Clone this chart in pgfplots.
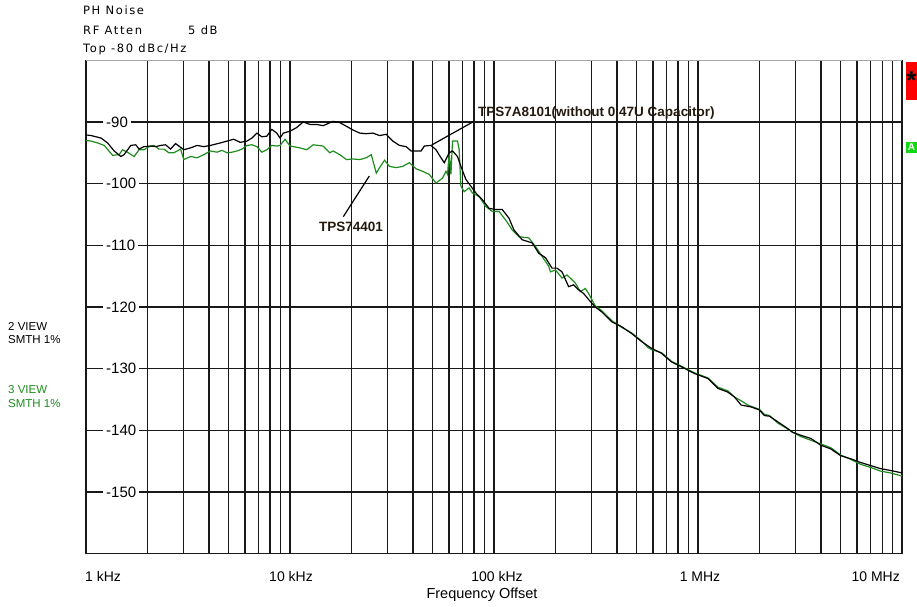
\documentclass[border=0pt]{standalone}
\usepackage{fontspec}
\setmainfont{Liberation Sans}
\newfontfamily\hdr{DejaVu Sans}[LetterSpace=14]
\usepackage{pgfplots}
\usepackage{pgfplotstable}
\pgfplotsset{compat=1.18}
\definecolor{tgreen}{RGB}{30,140,30}
\definecolor{boxgreen}{RGB}{20,215,20}
\definecolor{anntext}{RGB}{35,25,15}

\pgfplotstableread{
f db
1000 -92.1
1058 -92.2
1184 -92.6
1276 -93.4
1374 -94.7
1482 -95.6
1537 -95.3
1658 -93.8
1754 -93.7
1820 -94.4
1925 -94.0
2075 -93.9
2195 -94.0
2322 -93.8
2456 -93.7
2597 -94.4
2748 -93.5
2852 -93.9
3017 -94.5
3253 -94.2
3507 -93.8
3777 -94.0
4072 -93.8
4555 -93.4
4911 -93.1
5290 -92.8
5702 -93.3
6150 -93.1
6505 -92.6
6881 -91.8
7278 -92.4
7698 -92.3
8142 -91.2
8612 -91.8
8938 -92.6
9275 -91.8
10000 -91.5
10783 -90.9
11609 -90.0
12523 -90.4
13495 -90.4
14535 -90.6
16265 -89.9
17539 -90.1
18908 -90.7
20362 -91.3
21956 -91.8
23660 -91.9
25491 -91.8
27479 -92.2
29629 -92.0
31907 -93.1
34404 -93.8
37092 -94.0
39232 -94.7
43895 -94.7
45553 -93.9
49111 -93.8
51940 -94.5
54954 -95.8
57025 -96.6
60321 -95.0
62602 -94.7
66222 -95.6
68800 -97.2
72778 -99.3
76961 -100.4
81417 -101.5
87690 -102.6
94540 -104.0
101930 -104.2
109770 -104.2
118390 -105.6
125230 -107.5
137400 -109.1
153800 -109.6
165800 -111.3
178700 -112.0
192500 -113.7
203600 -113.7
215400 -114.3
232200 -116.7
245600 -116.4
259700 -117.2
274800 -117.8
296300 -119.1
313400 -120.0
337600 -120.8
377700 -122.4
422600 -123.2
472700 -124.3
528900 -125.6
591700 -126.7
662200 -127.5
740900 -128.9
828700 -129.7
963600 -130.8
1119000 -131.6
1252000 -133.2
1401000 -133.8
1510000 -134.6
1627000 -135.9
1820000 -136.2
2000000 -136.7
2115000 -137.6
2238000 -137.7
2456000 -138.6
2696000 -139.5
2906000 -140.3
3190000 -140.8
3569000 -141.3
3995000 -142.4
4469000 -143.0
5000000 -144.1
5595000 -144.6
6260000 -145.2
7003000 -145.7
7836000 -146.2
8769000 -146.5
10000000 -146.9
}\blackdata

\pgfplotstableread{
f db
1000 -93.0
1058 -93.1
1140 -93.4
1228 -93.8
1350 -95.4
1454 -95.3
1510 -94.5
1597 -94.9
1720 -95.6
1820 -94.5
1925 -94.5
2036 -94.0
2154 -93.8
2278 -94.4
2410 -94.4
2549 -95.0
2696 -95.0
2907 -94.4
3017 -96.1
3253 -95.6
3507 -95.8
3777 -95.3
4072 -94.7
4390 -94.9
4644 -94.6
4911 -95.0
5194 -94.9
5495 -94.7
5812 -94.4
6150 -93.8
6505 -93.7
6881 -94.0
7278 -94.9
7698 -94.5
8142 -93.8
8612 -93.9
8938 -93.8
9454 -92.8
10000 -93.9
11190 -94.2
12066 -94.5
12993 -93.7
14535 -93.9
15674 -95.0
16265 -94.7
17539 -95.3
18908 -96.1
20362 -96.0
21956 -96.1
23660 -95.8
25030 -95.3
26480 -98.3
27479 -97.4
29070 -96.2
30740 -97.2
33150 -97.4
35700 -97.2
38490 -96.6
41500 -97.6
44690 -98.0
48190 -98.5
51940 -99.9
55950 -99.1
58150 -98.0
59180 -98.5
60321 -95.0
61500 -98.5
62602 -93.1
66222 -93.1
67500 -94.5
68800 -100.4
71400 -101.3
75510 -100.7
78360 -101.5
84530 -102.1
91110 -103.7
98100 -104.5
105800 -104.5
114100 -105.9
122800 -107.5
132400 -108.6
148200 -108.8
159700 -110.2
172100 -111.8
185500 -113.4
189100 -114.3
200000 -114.0
215400 -115.3
227800 -114.8
250300 -116.1
264800 -117.5
280200 -117.0
290700 -117.8
313400 -119.8
337600 -120.6
377700 -122.2
422600 -123.3
472700 -124.2
528900 -125.5
570200 -126.6
591700 -126.9
662200 -127.4
740900 -128.8
828700 -129.6
963600 -130.7
1119000 -131.5
1252000 -133.0
1401000 -133.6
1510000 -134.6
1627000 -135.2
1754000 -135.9
1820000 -136.1
2000000 -136.6
2115000 -137.4
2238000 -137.6
2456000 -138.8
2696000 -139.6
2906000 -140.3
3190000 -141.0
3569000 -141.6
3995000 -142.2
4469000 -142.8
5000000 -144.0
5595000 -144.7
6260000 -145.5
7003000 -146.0
7836000 -146.6
8769000 -146.9
10000000 -147.4
}\greendata

\begin{document}
\begin{tikzpicture}[x=1pt,y=1pt]
\useasboundingbox (0,0) rectangle (917,606);
\begin{axis}[
  at={(86pt,52.3pt)}, anchor=south west,
  scale only axis, width=816pt, height=493.4pt,
  xmode=log, xmin=1000, xmax=1e7, ymin=-160, ymax=-80,
  xtick={1000,2000,3000,4000,5000,6000,7000,8000,9000,
         10000,20000,30000,40000,50000,60000,70000,80000,90000,
         100000,200000,300000,400000,500000,600000,700000,800000,900000,
         1000000,2000000,3000000,4000000,5000000,6000000,7000000,8000000,9000000,
         10000000},
  xticklabels={},
  ytick={-150,-140,-130,-120,-110,-100,-90},
  yticklabels={-150,-140,-130,-120,-110,-100,-90},
  xmajorgrids=true, xminorgrids=false, ymajorgrids=true, yminorgrids=false,
  minor x tick num=0, minor y tick num=0,
  major grid style={black!90,line width=1.5pt},
  major tick length=0pt, minor tick length=0pt,
  axis line style={draw=none},
  yticklabel style={anchor=west, xshift=17pt, fill=white, inner xsep=3pt, inner ysep=1pt, font=\fontsize{15}{15}\selectfont},
  clip=false,
]
\draw[black!35, line width=0.8pt] (axis cs:1000,-80) -- (axis cs:1e7,-80);
\draw[black!90, line width=1.5pt] (axis cs:1000,-160) -- (axis cs:1e7,-160);
\addplot[tgreen, line width=1.2pt, mark=none] table[x=f,y=db] {\greendata};
\addplot[black, line width=1.2pt, mark=none] table[x=f,y=db] {\blackdata};
\end{axis}
% annotations
\draw[black, line width=1.2pt] (431.7,461) -- (473.3,484.3);
\draw[black, line width=1.2pt] (369.3,430) -- (343.3,389.3);
\node[anchor=west, inner sep=0pt, text=anntext, font=\bfseries\fontsize{13.5}{14}\selectfont] at (478,493) {TPS7A8101(without 0.47U Capacitor)};
\node[anchor=center, inner sep=0pt, text=anntext, font=\bfseries\fontsize{13.5}{14}\selectfont] at (351,379) {TPS74401};
% header
\node[anchor=base west, inner sep=0pt, font=\hdr\fontsize{11.5}{12}\selectfont] at (83,591) {PH Noise};
\node[anchor=base west, inner sep=0pt, font=\hdr\fontsize{11.5}{12}\selectfont] at (83,571) {RF Atten};
\node[anchor=base west, inner sep=0pt, font=\hdr\fontsize{11.5}{12}\selectfont] at (188,571) {5 dB};
\node[anchor=base west, inner sep=0pt, font=\hdr\fontsize{11.5}{12}\selectfont] at (83,553) {Top -80 dBc/Hz};
% left labels
\node[anchor=base west, inner sep=0pt, font=\fontsize{11.5}{12}\selectfont] at (8,276) {2 VIEW};
\node[anchor=base west, inner sep=0pt, font=\fontsize{11.5}{12}\selectfont] at (8,263) {SMTH 1\%};
\node[anchor=base west, inner sep=0pt, text=tgreen, font=\fontsize{11.5}{12}\selectfont] at (8,213) {3 VIEW};
\node[anchor=base west, inner sep=0pt, text=tgreen, font=\fontsize{11.5}{12}\selectfont] at (8,199) {SMTH 1\%};
% x tick labels
\node[anchor=base west, inner sep=0pt, font=\fontsize{14}{14}\selectfont] at (85,25) {1 kHz};
\node[anchor=base, inner sep=0pt, font=\fontsize{14}{14}\selectfont] at (291,25) {10 kHz};
\node[anchor=base, inner sep=0pt, font=\fontsize{14}{14}\selectfont] at (497,25) {100 kHz};
\node[anchor=base, inner sep=0pt, font=\fontsize{14}{14}\selectfont] at (700,25) {1 MHz};
\node[anchor=base east, inner sep=0pt, font=\fontsize{14}{14}\selectfont] at (900,25) {10 MHz};
\node[anchor=base, inner sep=0pt, font=\fontsize{14.5}{15}\selectfont] at (482,8) {Frequency Offset};
% right markers
\fill[red] (906,506) rectangle (917,544.3);
\node[anchor=base, inner sep=0pt, font=\bfseries\fontsize{26}{26}\selectfont] at (911.5,516) {*};
\fill[boxgreen] (906,453.3) rectangle (917,464.3);
\node[anchor=center, inner sep=0pt, text=white, font=\bfseries\fontsize{10}{10}\selectfont] at (911.5,458.8) {A};
\end{tikzpicture}
\end{document}
